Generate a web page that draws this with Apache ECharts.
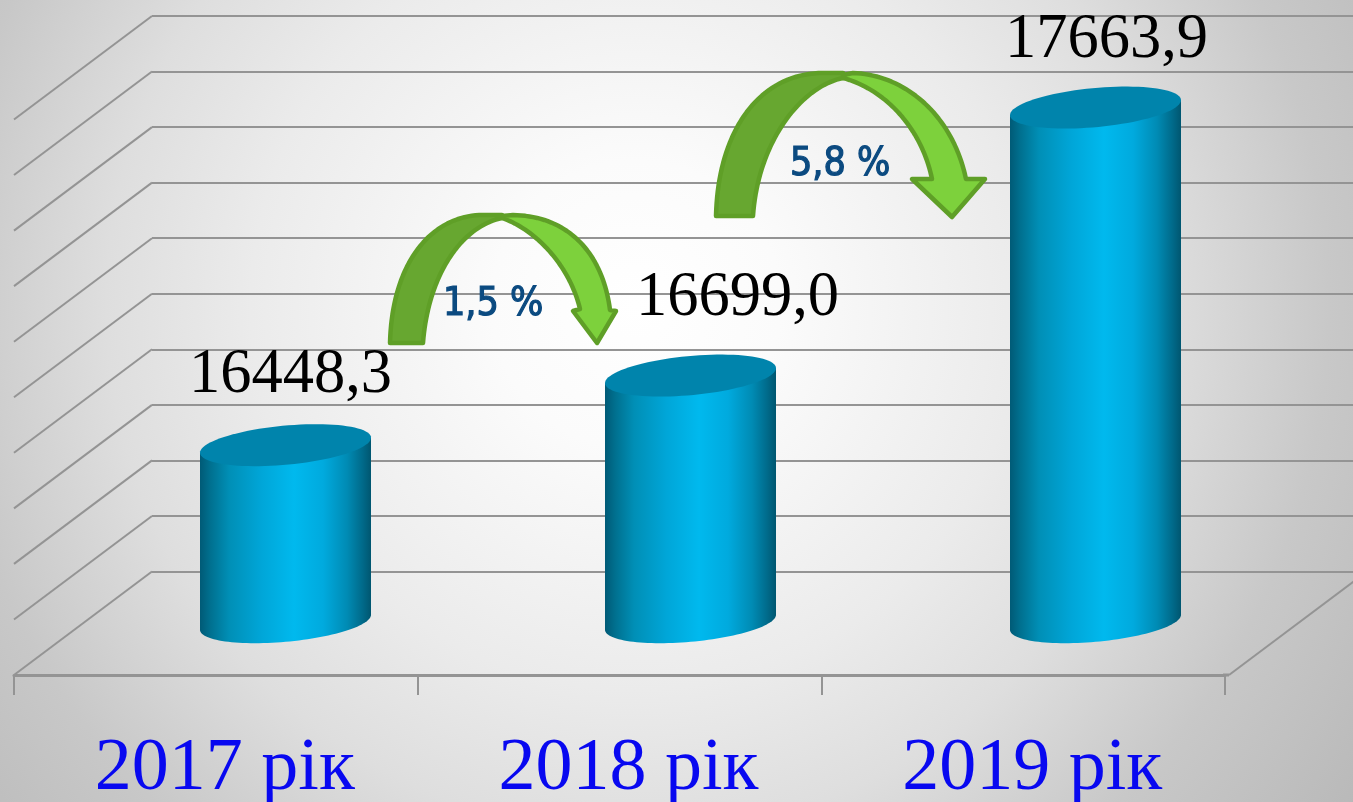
<!DOCTYPE html>
<html>
<head>
<meta charset="utf-8">
<style>html,body{margin:0;padding:0;background:#fff}#c{width:1353px;height:802px}</style>
<script src="https://cdn.jsdelivr.net/npm/echarts@6/dist/echarts.min.js"></script>
</head>
<body>
<div id="c"></div>
<script>
const categories = ['2017 рік', '2018 рік', '2019 рік'];
const values = [16448.3, 16699.0, 17663.9];
const valueTexts = ['16448,3', '16699,0', '17663,9'];
const yTicks = [15800, 16000, 16200, 16400, 16600, 16800, 17000, 17200, 17400, 17600, 17800];
const growthLabels = ['1,5 %', '5,8 %'];

// layout of the pseudo-3D scene
const backLeft = 152, backTop = 16, backBottom = 571.5, backWidth = 1215;
const depthX = -138, depthY = 103.5;
const barDepth = 0.5, barHalfW = 85.5, tiltY = 7.5, ellipseB = 19.6;
const labelShift = [[5, -70], [47, -77], [11, -67]];

const chart = echarts.init(document.getElementById('c'), null, {renderer: 'canvas'});

function ellipse(cx, cy, from, to, n) {
  const pts = [];
  for (let k = 0; k <= n; k++) {
    const t = from + (to - from) * k / n;
    pts.push([cx + barHalfW * Math.cos(t), cy - tiltY * Math.cos(t) + ellipseB * Math.sin(t)]);
  }
  return pts;
}

function renderCylinder(params, api) {
  const i = api.value(0);
  const topP = api.coord([i, api.value(1)]);
  const baseP = api.coord([i, yTicks[0]]);
  const cx = topP[0] + depthX * barDepth;
  const topY = topP[1] + depthY * barDepth + 2;
  const baseY = baseP[1] + depthY * barDepth - 1;
  const bodyPts = ellipse(cx, topY, Math.PI, 0, 2).slice(0, 1)
    .concat(ellipse(cx, baseY, Math.PI, 0, 60))
    .concat(ellipse(cx, topY, 0, Math.PI, 60).slice(0, 1));
  const body = {
    type: 'polygon', shape: {points: bodyPts},
    style: {fill: new echarts.graphic.LinearGradient(0, 0, 1, 0, [
      {offset: 0, color: '#005a76'},
      {offset: 0.06, color: '#00708f'},
      {offset: 0.17, color: '#008fb6'},
      {offset: 0.36, color: '#00a6d8'},
      {offset: 0.55, color: '#00b9ee'},
      {offset: 0.72, color: '#00aade'},
      {offset: 0.86, color: '#008bb4'},
      {offset: 0.95, color: '#006a8a'},
      {offset: 1, color: '#005670'}
    ])}
  };
  const cap = {
    type: 'polygon', shape: {points: ellipse(cx, topY, 0, Math.PI * 2, 90)},
    style: {fill: '#0084ac'}
  };
  const sh = labelShift[i];
  const label = {
    type: 'text',
    style: {
      text: valueTexts[i], x: cx + sh[0], y: topY + sh[1],
      fill: '#000', font: '62.5px "Liberation Serif"', align: 'center', verticalAlign: 'middle'
    }
  };
  return {type: 'group', children: [body, cap, label]};
}

function renderWall(params, api) {
  const y = api.coord([0, api.value(0)])[1];
  const x = params.coordSys.x;
  return {
    type: 'line',
    shape: {x1: x, y1: y, x2: x + depthX, y2: y + depthY},
    style: {stroke: '#949494', lineWidth: 2}
  };
}

function renderRightWall(params, api) {
  const y = api.coord([0, api.value(0)])[1];
  const x = params.coordSys.x + params.coordSys.width;
  return {
    type: 'group', children: [
      {type: 'line', shape: {x1: x, y1: y, x2: x + depthX, y2: y + depthY}, style: {stroke: '#949494', lineWidth: 2}},
      {type: 'line', shape: {x1: x + depthX - 6, y1: y + depthY, x2: x + depthX, y2: y + depthY}, style: {stroke: '#949494', lineWidth: 3}}
    ]
  };
}

function bez(p0, c1, c2, p1) {
  const pts = [];
  for (let k = 0; k <= 40; k++) {
    const t = k / 40, u = 1 - t;
    pts.push([
      u*u*u*p0[0] + 3*u*u*t*c1[0] + 3*u*t*t*c2[0] + t*t*t*p1[0],
      u*u*u*p0[1] + 3*u*u*t*c1[1] + 3*u*t*t*c2[1] + t*t*t*p1[1]
    ]);
  }
  return pts;
}
const arrowStroke = '#5f9f27', arrowDark = '#67a730', arrowLight = '#7dd13c';
function poly(points, fill, z) {
  return {type: 'polygon', z: z, shape: {points: points},
    style: {fill: fill, stroke: arrowStroke, lineWidth: 4.5, lineJoin: 'round'}};
}
function pctText(text, x, y) {
  return {
    type: 'text', z: 22, x: x, y: y,
    style: {text: text, fill: '#0b4a80', stroke: '#0b4a80', lineWidth: 1.2, font: '39px "DejaVu Sans Condensed", "DejaVu Sans"', verticalAlign: 'middle'}
  };
}
const arrowA = [
  poly([].concat([[502,216],[513,215]],
    bez([513,215],[570,216],[603,255],[610,310]),
    [[616,311],[597,343],[573,311],[580,309]],
    bez([580,309],[570,267],[537,230],[502,218])), arrowLight, 20),
  poly([].concat(bez([390,343],[392,262],[432,215],[483,215]),
    [[502,215],[502,218]],
    bez([502,218],[460,227],[428,277],[423,343])), arrowDark, 21)
];
const arrowB = [
  poly([].concat([[843,75],[853,73]],
    bez([853,73],[907,75],[953,117],[966,179]),
    [[985,179],[952,217],[912,179],[932,179]],
    bez([932,179],[922,130],[887,90],[843,78])), arrowLight, 20),
  poly([].concat(bez([716,216],[718,130],[760,73],[823,73]),
    [[843,73],[843,78]],
    bez([843,78],[800,87],[758,143],[753,216])), arrowDark, 21)
];

chart.setOption({
  animation: false,
  backgroundColor: new echarts.graphic.RadialGradient(0.47, 0.38, 1.2, [
    {offset: 0, color: '#ffffff'},
    {offset: 0.15, color: '#fbfbfb'},
    {offset: 0.4, color: '#ebebeb'},
    {offset: 0.55, color: '#dedede'},
    {offset: 0.72, color: '#c8c8c8'},
    {offset: 1, color: '#b2b2b2'}
  ]),
  grid: [
    {outerBoundsMode: 'none', left: backLeft, top: backTop, width: backWidth, height: backBottom - backTop},
    {outerBoundsMode: 'none', left: backLeft + depthX, top: backTop + depthY, width: 1211, height: backBottom - backTop}
  ],
  xAxis: [
    {gridIndex: 0, type: 'category', data: categories, axisLine: {show: false}, axisTick: {show: false}, axisLabel: {show: false}},
    {gridIndex: 1, type: 'category', data: categories,
      axisLine: {lineStyle: {color: '#949494', width: 3}},
      axisTick: {show: true, length: 20, lineStyle: {color: '#949494', width: 2}},
      axisLabel: {color: '#0808f0', fontFamily: 'Liberation Serif', fontSize: 74, margin: 58, padding: [0, 0, 0, 18]}}
  ],
  yAxis: [
    {gridIndex: 0, type: 'value', min: 15800, max: 17800, interval: 200,
      axisLine: {show: false}, axisTick: {show: false}, axisLabel: {show: false},
      splitLine: {lineStyle: {color: '#949494', width: 2}}},
    {gridIndex: 1, type: 'value', min: 15800, max: 17800, interval: 200, show: false, splitLine: {show: false}}
  ],
  series: [
    {type: 'custom', xAxisIndex: 0, yAxisIndex: 0, z: 2, clip: false, silent: true,
      data: yTicks.map(v => [v]), encode: {y: 0}, renderItem: renderWall},
    {type: 'custom', xAxisIndex: 0, yAxisIndex: 0, z: 2, clip: false, silent: true,
      data: [[yTicks[0]]], encode: {y: 0}, renderItem: renderRightWall},
    {type: 'custom', xAxisIndex: 0, yAxisIndex: 0, z: 5, clip: false, silent: true,
      data: values.map((v, i) => [i, v]), encode: {x: 0, y: 1}, renderItem: renderCylinder}
  ],
  graphic: {elements: arrowA.concat(arrowB, [pctText(growthLabels[0], 443, 305), pctText(growthLabels[1], 790, 165)])}
});
</script>
</body>
</html>
